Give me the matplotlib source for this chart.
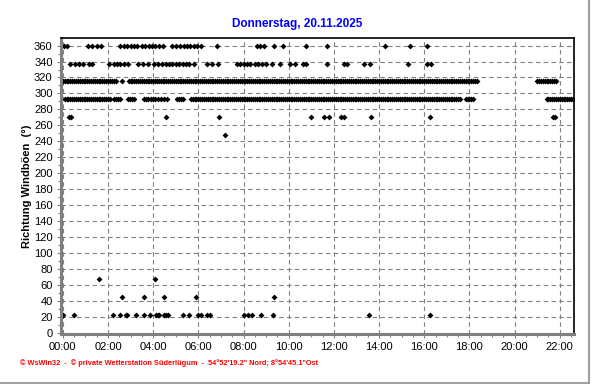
import matplotlib
matplotlib.use("Agg")
import matplotlib.pyplot as plt
from matplotlib.lines import Line2D
from matplotlib.ticker import MultipleLocator, FuncFormatter

# Windböen-Richtung, Zeitpunkte (HH:MM) je Richtung
dir_360 = """
00:03 00:12 01:06 01:18 01:30 01:42
02:33 02:42 02:51 03:00 03:09 03:18 03:30 03:39 03:48 03:57 04:06 04:15 04:27
04:51 05:00 05:12 05:21 05:30 05:39 05:48 05:57 06:06 06:49
08:36 08:45 08:54 09:20 09:44 10:46 11:43 14:17 15:23 16:08
""".split()

dir_337 = """
00:20 00:32 00:44 00:54 01:09 01:18
02:02 02:15 02:24 02:33 02:42 02:52 03:21 03:33 03:45
04:02 04:12 04:24 04:33 04:42 04:51 05:00 05:09 05:18 05:27 05:36 05:48
06:24 06:36 06:51
07:42 07:51 08:00 08:09 08:18 08:30 08:39 08:48 09:00 09:15 09:36
10:04 10:17 10:38 10:47 11:43 12:26 12:35 13:21 13:36 15:18 16:08 16:17
""".split()

dir_315 = """
00:00 00:05 00:10 00:15 00:20 00:25 00:30 00:35 00:40 00:45 00:50 00:55
01:00 01:05 01:10 01:15 01:20 01:25 01:30 01:35 01:40 01:45 01:50 01:55
02:00 02:05 02:10 02:15 02:20 02:38 02:55
03:00 03:05 03:10 03:15 03:20 03:25 03:30 03:35 03:40 03:45 03:50 03:55
04:00 04:05 04:10 04:15 04:20 04:25 04:30 04:35 04:40 04:45 04:50 04:55
05:00 05:05 05:10 05:15 05:20 05:25 05:30 05:35 05:40 05:45 05:50 05:55
06:00 06:05 06:10 06:15 06:20 06:25 06:30 06:35 06:40 06:45 06:50 06:55
07:00 07:05 07:10 07:15 07:20 07:25 07:30 07:35 07:40 07:45 07:50 07:55
08:00 08:05 08:10 08:15 08:20 08:25 08:30 08:35 08:40 08:45 08:50 08:55
09:00 09:05 09:10 09:15 09:20 09:25 09:30 09:35 09:40 09:45 09:50 09:55
10:00 10:05 10:10 10:15 10:20 10:25 10:30 10:35 10:40 10:45 10:50 10:55
11:00 11:05 11:10 11:15 11:20 11:25 11:30 11:35 11:40 11:45 11:50 11:55
12:00 12:05 12:10 12:15 12:20 12:25 12:30 12:35 12:40 12:45 12:50 12:55
13:00 13:05 13:10 13:15 13:20 13:25 13:30 13:35 13:40 13:45 13:50 13:55
14:00 14:05 14:10 14:15 14:20 14:25 14:30 14:35 14:40 14:45 14:50 14:55
15:00 15:05 15:10 15:15 15:20 15:25 15:30 15:35 15:40 15:45 15:50 15:55
16:00 16:05 16:10 16:15 16:20 16:25 16:30 16:35 16:40 16:45 16:50 16:55
17:00 17:05 17:10 17:15 17:20 17:25 17:30 17:35 17:40 17:45 17:50 17:55
18:00 18:05 18:10 18:15 18:20
21:00 21:05 21:10 21:15 21:20 21:25 21:30 21:35 21:40 21:45 21:50
""".split()

dir_292 = """
00:05 00:10 00:15 00:20 00:25 00:30 00:35 00:40 00:45 00:50 00:55
01:00 01:05 01:10 01:15 01:20 01:25 01:30 01:35 01:40 01:45 01:50 01:55
02:00 02:05 02:17 02:22 02:27 02:32 02:52 02:58 03:04 03:10
03:35 03:41 03:47 03:53 04:00 04:06 04:14 04:22 04:30 04:38
05:02 05:08 05:14 05:20
05:40 05:45 05:50 05:55
06:00 06:05 06:10 06:15 06:20 06:25 06:30 06:35 06:40 06:45 06:50 06:55
07:00 07:05 07:10 07:15 07:20 07:25 07:30 07:35 07:40 07:45 07:50 07:55
08:00 08:05 08:10 08:15 08:20 08:25 08:30 08:35 08:40 08:45 08:50 08:55
09:00 09:05 09:10 09:15 09:20 09:25 09:30 09:35 09:40 09:45 09:50 09:55
10:00 10:05 10:10 10:15 10:20 10:25 10:30 10:35 10:40 10:45 10:50 10:55
11:00 11:05 11:10 11:15 11:20 11:25 11:30 11:35 11:40 11:45 11:50 11:55
12:00 12:05 12:10 12:15 12:20 12:25 12:30 12:35 12:40 12:45 12:50 12:55
13:00 13:05 13:10 13:15 13:20 13:25 13:30 13:35 13:40 13:45 13:50 13:55
14:00 14:05 14:10 14:15 14:20 14:25 14:30 14:35 14:40 14:45 14:50 14:55
15:00 15:05 15:10 15:15 15:20 15:25 15:30 15:35 15:40 15:45 15:50 15:55
16:00 16:05 16:10 16:15 16:20 16:25 16:30 16:35 16:40 16:45 16:50 16:55
17:00 17:05 17:10 17:15 17:20 17:25 17:30 17:35
17:50 17:55 18:00 18:05 18:10
21:25 21:30 21:35 21:40 21:45 21:50 21:55 22:00 22:05 22:10 22:15 22:20 22:25 22:30 22:35
""".split()

dir_270 = "00:17 00:23 04:35 06:55 11:00 11:34 11:47 12:19 12:28 13:39 16:16 21:42 21:48".split()
dir_247 = "07:10".split()
dir_67 = "01:35 04:05".split()
dir_45 = "02:36 03:35 04:30 05:53 09:20".split()
dir_22 = """
00:01 00:31 02:12 02:31 02:48 02:51 03:14 03:35 03:52 04:08 04:12 04:16
04:29 04:34 04:39 05:18 05:36 05:59 06:06 06:24 06:32
08:02 08:12 08:22 08:47 09:17 13:34 16:15
""".split()

directions = [360, 337.5, 315, 292.5, 270, 247.5, 67.5, 45, 22.5]
series = [dir_360, dir_337, dir_315, dir_292, dir_270, dir_247, dir_67, dir_45, dir_22]

title = "Donnerstag, 20.11.2025"
ylabel = "Richtung Windböen  (°)"
footer = "© WsWin32  -  © private Wetterstation Süderlügum  -  54°52'19.2\" Nord; 8°54'45.1\"Ost"


def to_hours(times):
    return [int(t[:2]) + int(t[3:]) / 60 for t in times]


plt.rcParams['font.family'] = ['Liberation Sans', 'DejaVu Sans']

fig = plt.figure(figsize=(5.92, 3.84), dpi=100)
ax = fig.add_axes([61 / 592, 1 - 334 / 384, (574 - 61) / 592, (334 - 38) / 384])

for deg, times in zip(directions, series):
    x = to_hours(times)
    ax.plot(x, [deg] * len(x), linestyle='none', marker='D', ms=3.0,
            color='black', markeredgewidth=0)

ax.set_xlim(-0.08, 22.63)
ax.set_ylim(-1.5, 369.5)
ax.xaxis.set_major_locator(MultipleLocator(2))
ax.xaxis.set_minor_locator(MultipleLocator(0.5))
ax.xaxis.set_major_formatter(FuncFormatter(lambda v, p: "%02d:00" % int(round(v))))
ax.yaxis.set_major_locator(MultipleLocator(20))
ax.yaxis.set_minor_locator(MultipleLocator(10))

ax.set_axisbelow(True)
ax.grid(True, which='major', color='#808080', linestyle=(0, (4, 3)), linewidth=0.8)

for s in ['left', 'bottom']:
    ax.spines[s].set_color('#808080')
    ax.spines[s].set_linewidth(2.2)
for s in ['top', 'right']:
    ax.spines[s].set_color('black')
    ax.spines[s].set_linewidth(1.2)

ax.tick_params(which='major', length=3, width=0.8, color='#808080', labelsize=8, pad=3)
ax.tick_params(which='minor', length=2, width=0.8, color='#808080')

fig.text(297 / 592, 1 - 24 / 384, title, ha='center', va='center',
         color='#0000ff', fontsize=8.5, fontweight='bold')
fig.text(27 / 592, 1 - 186 / 384, ylabel, rotation=90, ha='center', va='center',
         fontsize=8, fontweight='bold')
fig.text(20 / 592, 1 - 363 / 384, footer, ha='left', va='center',
         color='red', fontsize=5.3, fontweight='bold')

fig.add_artist(Line2D([589 / 592, 589 / 592], [0, 1], color='#a0a0a0', lw=1.5))
fig.add_artist(Line2D([0, 589 / 592], [1 - 382.5 / 384] * 2, color='#a0a0a0', lw=1.5))

fig.savefig('out.png', dpi=100)
